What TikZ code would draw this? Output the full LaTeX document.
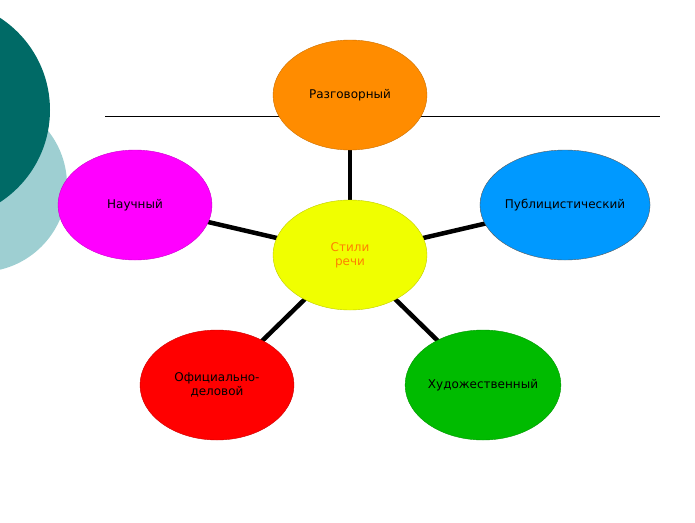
\documentclass[tikz,border=0pt]{standalone}
\usepackage{fontspec}
\setmainfont{DejaVu Sans}
\usetikzlibrary{positioning, shapes.geometric, backgrounds}
\definecolor{darkteal}{HTML}{006A66}
\definecolor{lightteal}{HTML}{9ECFD2}
\definecolor{razg}{HTML}{FF8C00}
\definecolor{publ}{HTML}{0099FF}
\definecolor{nauch}{HTML}{FF00FF}
\definecolor{styl}{HTML}{F0FF00}
\definecolor{ofic}{HTML}{FF0000}
\definecolor{khud}{HTML}{00BB00}
\begin{document}
\begin{tikzpicture}[x=1pt, y=-1pt,
    stilbox/.style={draw=#1!80!black, fill=#1, ellipse, minimum width=154pt, minimum height=110pt, align=center, font=\fontsize{12}{14}\selectfont, inner sep=0pt},
    spoke/.style={line width=4.5pt}]
    \useasboundingbox (0,0) rectangle (695,522);
    \fill[lightteal] (-20,185) circle (87);
    \fill[darkteal] (-60,110) circle (110);
    \draw (105,116) -- (660,116);

    \node[stilbox=razg] (razg) at (350,95) {Разговорный};
    \node[stilbox=publ, draw=gray!70!black] (publ) at (565,205) {Публицистический};
    \node[stilbox=nauch] (nauch) at (135,205) {Научный};
    \node[stilbox=ofic] (ofic) at (217,385) {Официально-\\деловой};
    \node[stilbox=khud] (khud) at (483,385) {Художественный};
    \node[stilbox=styl, text=orange] (stil) at (350,255) {Стили\\речи};

    \begin{scope}[on background layer]
    \foreach \n in {razg, publ, nauch, ofic, khud}
        \draw[spoke] (stil.center) -- (\n.center);
    \end{scope}
\end{tikzpicture}
\end{document}
